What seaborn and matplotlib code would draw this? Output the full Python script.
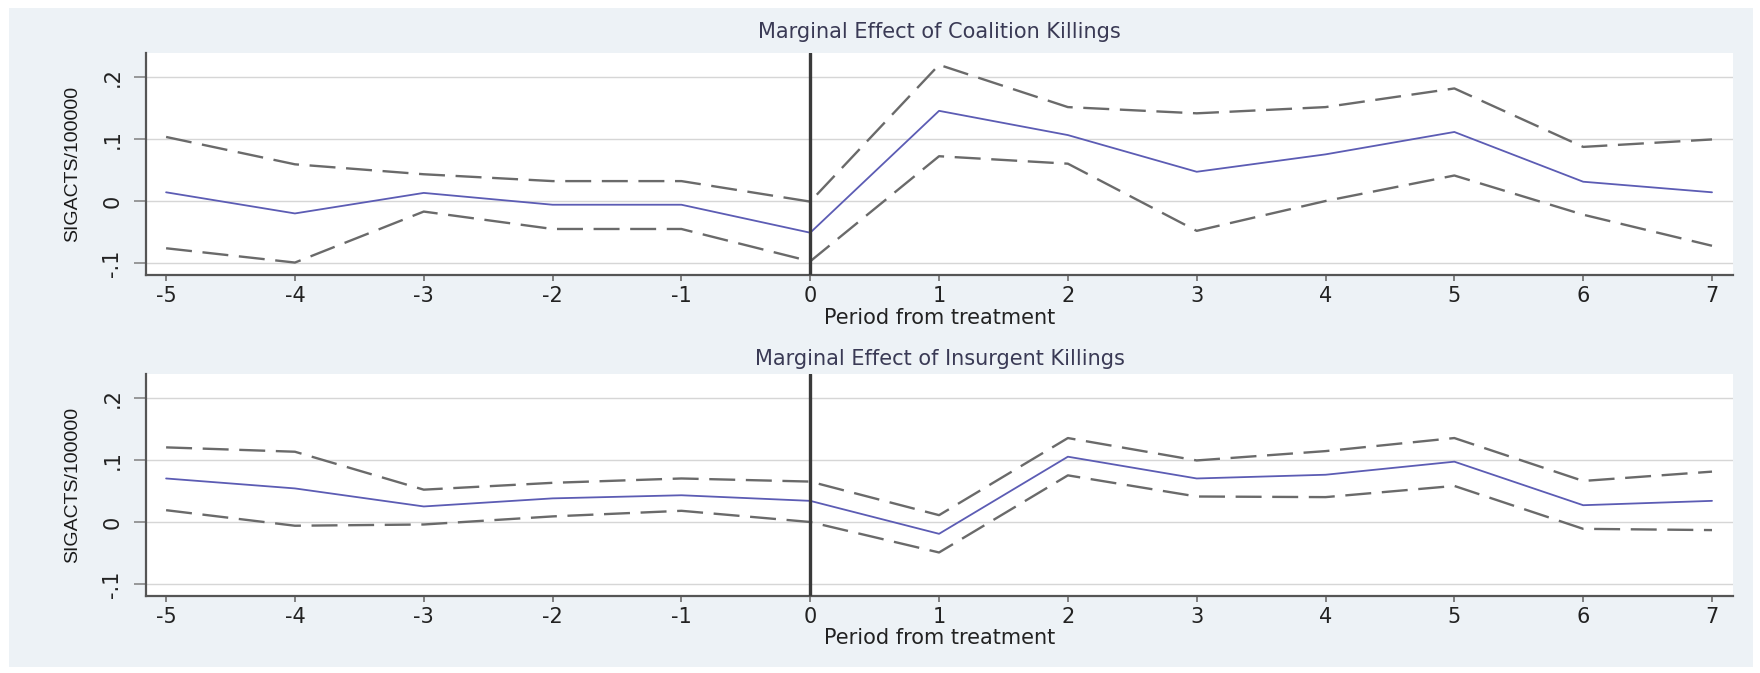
import numpy as np
import pandas as pd
import matplotlib
matplotlib.use("Agg")
import matplotlib.pyplot as plt
import seaborn as sns
from matplotlib.patches import Rectangle

# ---------------- data ----------------
periods = [-5, -4, -3, -2, -1, 0, 1, 2, 3, 4, 5, 6, 7]

coal_est = [0.014, -0.020, 0.013, -0.006, -0.006, -0.051, 0.145, 0.106, 0.047, 0.075, 0.111, 0.031, 0.014]
coal_hi = [0.103, 0.059, 0.043, 0.032, 0.032, -0.001, 0.219, 0.151, 0.141, 0.151, 0.181, 0.087, 0.099]
coal_lo = [-0.076, -0.099, -0.017, -0.045, -0.045, -0.097, 0.072, 0.060, -0.048, 0.000, 0.041, -0.022, -0.072]

ins_est = [0.070, 0.054, 0.025, 0.038, 0.043, 0.034, -0.019, 0.105, 0.070, 0.076, 0.097, 0.027, 0.034]
ins_hi = [0.120, 0.113, 0.052, 0.063, 0.070, 0.065, 0.011, 0.135, 0.099, 0.114, 0.135, 0.066, 0.081]
ins_lo = [0.019, -0.006, -0.004, 0.009, 0.018, 0.000, -0.049, 0.075, 0.041, 0.040, 0.058, -0.011, -0.013]

titles = ["Marginal Effect of Coalition Killings", "Marginal Effect of Insurgent Killings"]
ytick_vals = [-0.1, 0.0, 0.1, 0.2]
ytick_labels = ["-.1", "0", ".1", ".2"]
xlabel = "Period from treatment"
ylabel = "SIGACTS/100000"

# ---------------- style ----------------
sns.set_style("white")
plt.rcParams["font.family"] = ["DejaVu Sans"]

BG = "#edf2f6"
BLUE = "#5c5cb4"
DASH = "#6a6a6a"
GRID = "#d6d6d6"
AXC = "#555555"

W, H = 1760, 673
fig = plt.figure(figsize=(W / 100, H / 100), dpi=100)
fig.patch.set_facecolor("white")
bg = Rectangle((9 / W, 1 - 667 / H), (1753 - 9) / W, (667 - 8) / H,
               transform=fig.transFigure, facecolor=BG, edgecolor="none", zorder=-10)
fig.patches.append(bg)

left = 146 / W
width = (1733 - 146) / W
panels = [
    dict(top=53, bottom=275, est=coal_est, hi=coal_hi, lo=coal_lo, title=titles[0], title_y=32),
    dict(top=374, bottom=596, est=ins_est, hi=ins_hi, lo=ins_lo, title=titles[1], title_y=359),
]

for p in panels:
    ax = fig.add_axes([left, 1 - p["bottom"] / H, width, (p["bottom"] - p["top"]) / H])
    ax.set_zorder(1)
    ax.set_facecolor("white")
    df = pd.DataFrame({"period": periods, "est": p["est"], "hi": p["hi"], "lo": p["lo"]})

    for yv in ytick_vals:
        ax.axhline(yv, color=GRID, lw=1.0, zorder=1)

    sns.lineplot(data=df, x="period", y="hi", ax=ax, color=DASH, lw=1.7, zorder=3)
    ax.lines[-1].set_dashes((11, 4.5))
    sns.lineplot(data=df, x="period", y="lo", ax=ax, color=DASH, lw=1.7, zorder=3)
    ax.lines[-1].set_dashes((11, 4.5))
    sns.lineplot(data=df, x="period", y="est", ax=ax, color=BLUE, lw=1.3, zorder=4)

    ax.axvline(0, color="#3a3a3a", lw=2.4, zorder=5)

    ax.set_xlim(-5.156, 7.163)
    ax.set_ylim(-0.119, 0.238)
    ax.set_xticks(periods)
    ax.set_xticklabels([str(v) for v in periods])
    ax.set_yticks(ytick_vals)
    ax.set_yticklabels(ytick_labels, rotation=90, va="center")

    for s in ["top", "right"]:
        ax.spines[s].set_visible(False)
    for s in ["left", "bottom"]:
        ax.spines[s].set_color(AXC)
        ax.spines[s].set_linewidth(1.6)

    ax.tick_params(axis="x", which="major", bottom=True, direction="out", length=4, width=1.3,
                   color="#777777", labelcolor="#222222", labelsize=15, pad=4)
    ax.tick_params(axis="y", which="major", left=True, direction="out", length=9, width=1.2,
                   color="#888888", labelcolor="#222222", labelsize=15, pad=8)

    ax.set_xlabel(xlabel, fontsize=15, color="#222222", labelpad=1)
    ax.set_ylabel(ylabel, fontsize=14, color="#1a1a1a",
                  family=["Liberation Sans", "DejaVu Sans"])
    ax.yaxis.set_label_coords(-0.041, 0.5)

    fig.text(left + width / 2, 1 - p["title_y"] / H, p["title"], ha="center", va="center",
             fontsize=15, color="#3a3a55")

fig.savefig("out.png", dpi=100, facecolor=fig.get_facecolor())
